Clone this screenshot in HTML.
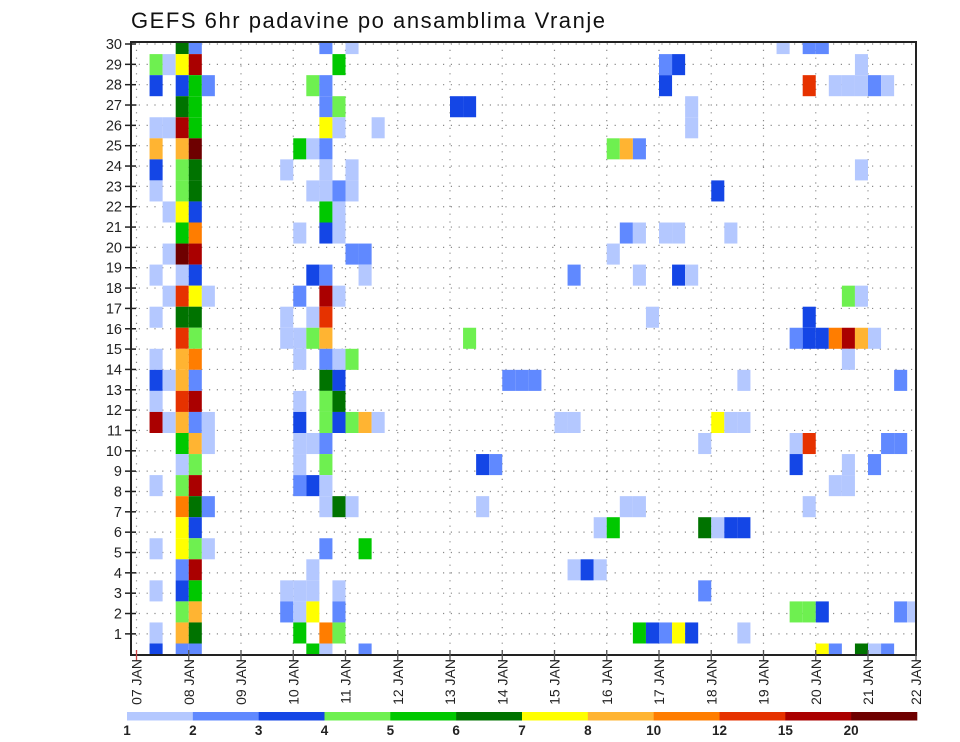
<!DOCTYPE html>
<html><head><meta charset="utf-8"><style>
html,body{margin:0;padding:0;background:#fff;}
svg{display:block;font-family:"Liberation Sans",sans-serif;}
</style></head><body>
<svg id="chart" width="960" height="742" viewBox="0 0 960 742">
<defs><clipPath id="plotclip"><rect x="131" y="42" width="785" height="613"/></clipPath></defs>
<text x="131" y="28" font-size="22" textLength="474" fill="#111">GEFS 6hr padavine po ansamblima Vranje</text>
<g id="grid"></g>
<g id="cells" clip-path="url(#plotclip)"></g>
<g id="axes"></g>
<g id="cbar"></g>
</svg>
<script>
// ensemble member labels on y axis
const memberLabels = [30,29,28,27,26,25,24,23,22,21,20,19,18,17,16,15,14,13,12,11,10,9,8,7,6,5,4,3,2,1];
// x-axis day labels
const dayLabels = ["07 JAN","08 JAN","09 JAN","10 JAN","11 JAN","12 JAN","13 JAN","14 JAN","15 JAN","16 JAN","17 JAN","18 JAN","19 JAN","20 JAN","21 JAN","22 JAN"];
// colour bins (lower bounds)
const binLabels = ["1","2","3","4","5","6","7","8","10","12","15","20"];
const binColors = ["#b4c8ff","#6089ff","#1446e6","#6ef050","#00c800","#007300","#ffff00","#ffb432","#ff7d00","#e63200","#aa0000","#6e0000"];
const binCodes = "abcdefghijkl";
// rows top to bottom; "<6h-step><bin>" entries
const rowData = [
"3f 4b 14b 16a 49a 51b 52b",
"1d 2a 3g 4k 15e 40b 41c 55a",
"1c 3c 4e 5b 13d 14b 40c 51j 53a 54a 55a 56b 57a",
"3f 4e 14b 15d 24c 25c 42a",
"1a 2a 3k 4e 14g 15a 18a 42a",
"1h 3h 4l 12e 13a 14b 36d 37h 38b",
"1c 3d 4f 11a 14a 16a 55a",
"1a 3d 4f 13a 14a 15b 16a 44c",
"2a 3g 4c 14e 15a",
"3e 4i 12a 14c 15a 37b 38a 40a 41a 45a",
"2a 3l 4k 16b 17b 36a",
"1a 3a 4c 13c 14b 17a 33b 38a 41c 42a",
"2a 3j 4g 5a 12b 14k 15a 54d 55a",
"1a 3f 4f 11a 13a 14j 39a 51c",
"3j 4d 11a 12a 13d 14h 25d 50b 51c 52c 53i 54k 55h 56a",
"1a 3h 4i 12a 14b 15a 16d 54a",
"1c 2a 3h 4b 14f 15c 28b 29b 30b 46a 58b",
"1a 3j 4k 12a 14d 15f",
"1k 2a 3h 4b 5a 12c 14d 15c 16d 17h 18a 32a 33a 44g 45a 46a",
"3e 4h 5a 12a 13a 14b 43a 50a 51j 57b 58b",
"3a 4d 12a 14d 26c 27b 50c 54a 56b",
"1a 3d 4k 12b 13c 14a 53a 54a",
"3i 4f 5b 14a 15f 16a 26a 37a 38a 51a",
"3g 4c 35a 36e 43f 44a 45c 46c",
"1a 3g 4d 5a 14b 17e",
"3b 4k 13a 33a 34c 35a",
"1a 3c 4e 11a 12a 13a 15a 43b",
"3d 4h 11b 12a 13g 15b 50d 51d 52c 58b 59a",
"1a 3h 4f 12e 14i 15d 38e 39c 40b 41g 42c 46a",
"1c 3b 4b 13e 14a 17b 52g 53b 55f 56a 57b"
];

const NS="http://www.w3.org/2000/svg";
const X0=136.5, DAY=52.25, STEP=DAY/4;
const PL=131, PR=916, PT=42, PB=655;
const xStep = j => X0 + j*STEP;
const xDay = d => X0 + d*DAY;
const yLabel = k => 44 + (30-k)*20.34;
const ROWH=21.05, FIRSTB=54.1;
const rowTop = r => r===0 ? FIRSTB-ROWH : FIRSTB + (r-1)*ROWH;
function mk(tag, attrs, parent){const e=document.createElementNS(NS,tag);for(const k in attrs)e.setAttribute(k,attrs[k]);parent.appendChild(e);return e;}

const grid=document.getElementById('grid');
memberLabels.forEach(k=>{
  const l=mk('line',{x1:PL,x2:PR,y1:yLabel(k),y2:yLabel(k),stroke:'#8a8a8a','stroke-width':1.2,'stroke-dasharray':'1.2 6.6'},grid);
  
  
});
dayLabels.forEach((d,i)=>{
  const x=xDay(i); if(x>PR-1) return;
  const l=mk('line',{x1:x,x2:x,y1:PT,y2:PB,stroke:'#8a8a8a','stroke-width':1.2,'stroke-dasharray':'1.2 6.6'},grid);
  
  
});

const cells=document.getElementById('cells');
rowData.forEach((row,r)=>{
  row.split(' ').forEach(tok=>{
    const j=parseInt(tok,10); const code=tok.slice(-1);
    const c=binColors[binCodes.indexOf(code)];
    const rc=mk('rect',{x:xStep(j),y:rowTop(r),width:STEP,height:ROWH,fill:c},cells);
    
    
  });
});

const axes=document.getElementById('axes');
mk('rect',{x:PL,y:PT,width:PR-PL,height:PB-PT,fill:'none',stroke:'#222','stroke-width':2},axes);
memberLabels.forEach(k=>{
  const y=yLabel(k);
  mk('line',{x1:125,x2:136,y1:y,y2:y,stroke:'#222','stroke-width':1.5},axes);
  const t=mk('text',{x:122,y:y+5,'font-size':14.5,'text-anchor':'end',fill:'#222'},axes);
  t.textContent=k;
  
  
});
dayLabels.forEach((d,i)=>{
  let x=xDay(i); if(x>PR) x=PR;
  mk('line',{x1:x,x2:x,y1:PB-5,y2:PB+6,stroke:i===0?'#c44':'#555','stroke-width':1.3},axes);
  const t=mk('text',{x:0,y:0,'font-size':14,'text-anchor':'end',fill:'#222',transform:`translate(${x+5},659) rotate(-90)`},axes);
  t.textContent=d;
  
  
});

const cbar=document.getElementById('cbar');
const CB0=127, CB1=917, CBW=(CB1-CB0)/binColors.length;
binColors.forEach((c,i)=>{
  const r=mk('rect',{x:CB0+i*CBW,y:712,width:CBW+0.3,height:8.5,fill:c},cbar);
  
  
});
binLabels.forEach((s,i)=>{
  const t=mk('text',{x:CB0+i*CBW,y:735,'font-size':13.5,'font-weight':'bold','text-anchor':'middle',fill:'#222'},cbar);
  t.textContent=s;
  
  
});
</script>
</body></html>
